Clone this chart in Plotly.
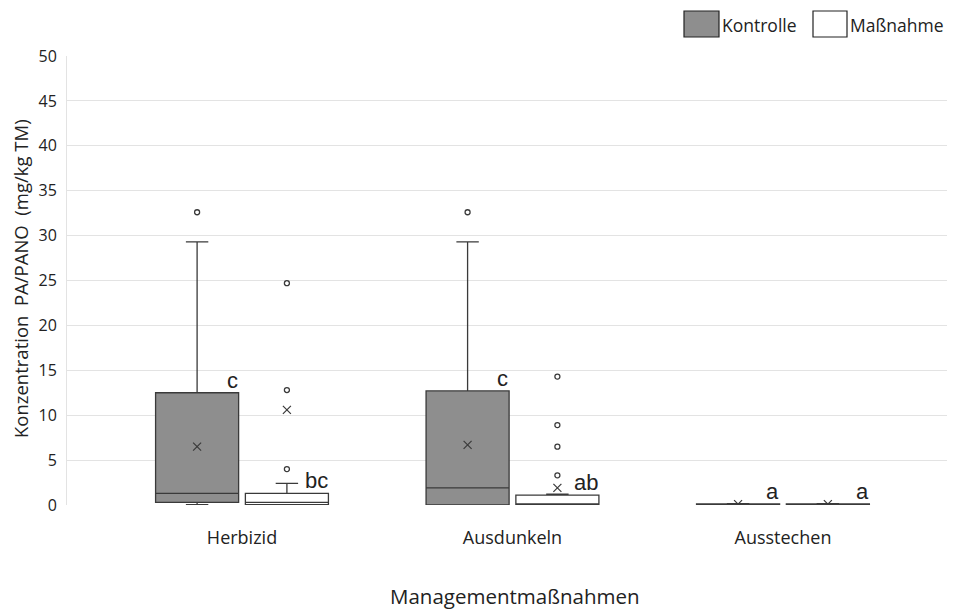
import plotly.graph_objects as go

categories = ["Herbizid", "Ausdunkeln", "Ausstechen"]

kontrolle_q1 = [0.3, 0.0, 0.02]
kontrolle_median = [1.3, 1.9, 0.07]
kontrolle_q3 = [12.5, 12.7, 0.12]
kontrolle_lower = [0.05, 0.0, 0.0]
kontrolle_upper = [29.3, 29.3, 0.15]
kontrolle_mean = [6.5, 6.7, 0.1]
kontrolle_outliers = [[32.6], [32.6], []]
kontrolle_letters = ["c", "c", "a"]

massnahme_q1 = [0.05, 0.0, 0.02]
massnahme_median = [0.3, 0.05, 0.07]
massnahme_q3 = [1.3, 1.1, 0.12]
massnahme_lower = [0.0, 0.0, 0.0]
massnahme_upper = [2.4, 1.2, 0.15]
massnahme_mean = [10.6, 1.9, 0.1]
massnahme_outliers = [[24.7, 12.8, 4.0], [14.3, 8.9, 6.5, 3.3], []]
massnahme_letters = ["bc", "ab", "a"]

y_ticks = list(range(0, 55, 5))

LINE = "#3a3a3a"
GRAY = "#8e8e8e"
OFF = 0.166
BW = 0.307
FONT = "Open Sans"

# the page body adds an 8 px offset; figure is sized so the plot area lands at
# page pixels x 67..955, y 56..505
PX0, PY0, PW, PH = 67, 56, 888, 449


def px(x):
    return (x - PX0) / PW


def py(y):
    return (PY0 + PH - y) / PH


fig = go.Figure()

series = [
    ("Kontrolle", -OFF, GRAY, kontrolle_q1, kontrolle_median, kontrolle_q3,
     kontrolle_lower, kontrolle_upper, kontrolle_mean, kontrolle_outliers, kontrolle_letters),
    ("Maßnahme", OFF, "#ffffff", massnahme_q1, massnahme_median, massnahme_q3,
     massnahme_lower, massnahme_upper, massnahme_mean, massnahme_outliers, massnahme_letters),
]

annotations = []
for name, off, fill, q1, med, q3, lo, up, mean, outl, letters in series:
    xs = [i + off for i in range(len(categories))]
    fig.add_trace(go.Box(
        x=xs, q1=q1, median=med, q3=q3, lowerfence=lo, upperfence=up,
        name=name, fillcolor=fill, line=dict(color=LINE, width=1.3),
        width=BW, whiskerwidth=0.27, boxpoints=False, showlegend=False,
        hoverinfo="skip",
    ))
    fig.add_trace(go.Scatter(
        x=xs, y=mean, mode="markers", showlegend=False, hoverinfo="skip",
        marker=dict(symbol="x-thin", size=8, color=LINE, line=dict(color=LINE, width=1.2)),
    ))
    ox, oy = [], []
    for x, vals in zip(xs, outl):
        for v in vals:
            ox.append(x)
            oy.append(v)
    fig.add_trace(go.Scatter(
        x=ox, y=oy, mode="markers", showlegend=False, hoverinfo="skip",
        marker=dict(symbol="circle-open", size=5, color=LINE, line=dict(color=LINE, width=1.3)),
    ))
    for x, top, t in zip(xs, q3, letters):
        annotations.append(dict(
            x=x + BW / 2 + 0.005, y=top, yshift=-2, xref="x", yref="y", text=t,
            showarrow=False, xanchor="right", yanchor="bottom",
            font=dict(family="Liberation Sans", size=22, color="#222222"),
        ))

# axis titles
annotations.append(dict(
    x=px(20), y=py(279), xref="paper", yref="paper",
    text="Konzentration\u00a0 PA/PANO\u00a0 (mg/kg TM)", textangle=-90, showarrow=False,
    xanchor="center", yanchor="middle", font=dict(family=FONT, size=18.5, color="#222222"),
))
annotations.append(dict(
    x=px(515), y=py(596), xref="paper", yref="paper",
    text="Managementmaßnahmen", showarrow=False,
    xanchor="center", yanchor="middle", font=dict(family=FONT, size=20.5, color="#222222"),
))

# legend (drawn manually)
shapes = []
legend_items = [("Kontrolle", GRAY, 684, 719, 720), ("Maßnahme", "#ffffff", 813, 847, 848)]
for label, fill, x0, x1, tx in legend_items:
    shapes.append(dict(
        type="rect", xref="paper", yref="paper",
        x0=px(x0), x1=px(x1), y0=py(37), y1=py(11),
        fillcolor=fill, line=dict(color="#222222", width=1.2),
    ))
    annotations.append(dict(
        x=px(tx), y=py(25), xref="paper", yref="paper",
        text=label, showarrow=False, xanchor="left", yanchor="middle",
        font=dict(family=FONT, size=17.5, color="#222222"),
    ))

fig.update_layout(
    width=947, height=602,
    margin=dict(l=PX0 - 8, r=947 - (PX0 - 8) - PW, t=PY0 - 8,
                b=602 - (PY0 - 8) - PH, autoexpand=False),
    plot_bgcolor="white", paper_bgcolor="white",
    annotations=annotations, shapes=shapes,
    showlegend=False,
    boxmode="overlay",
)
fig.update_xaxes(
    range=[-0.647, 2.636], tickvals=[0, 1, 2], ticktext=categories,
    showgrid=False, zeroline=False, showline=False,
    ticks="outside", ticklen=16, tickcolor="rgba(0,0,0,0)",
    tickfont=dict(family=FONT, size=18, color="#222222"),
)
fig.update_yaxes(
    range=[0, 50], tickvals=y_ticks, showgrid=True, gridcolor="#e3e3e3",
    gridwidth=1, zeroline=False, showline=True, linecolor="#e3e3e3",
    ticks="outside", ticklen=6, tickcolor="rgba(0,0,0,0)",
    tickfont=dict(family=FONT, size=16, color="#222222"),
)

fig.write_html("out.html")
